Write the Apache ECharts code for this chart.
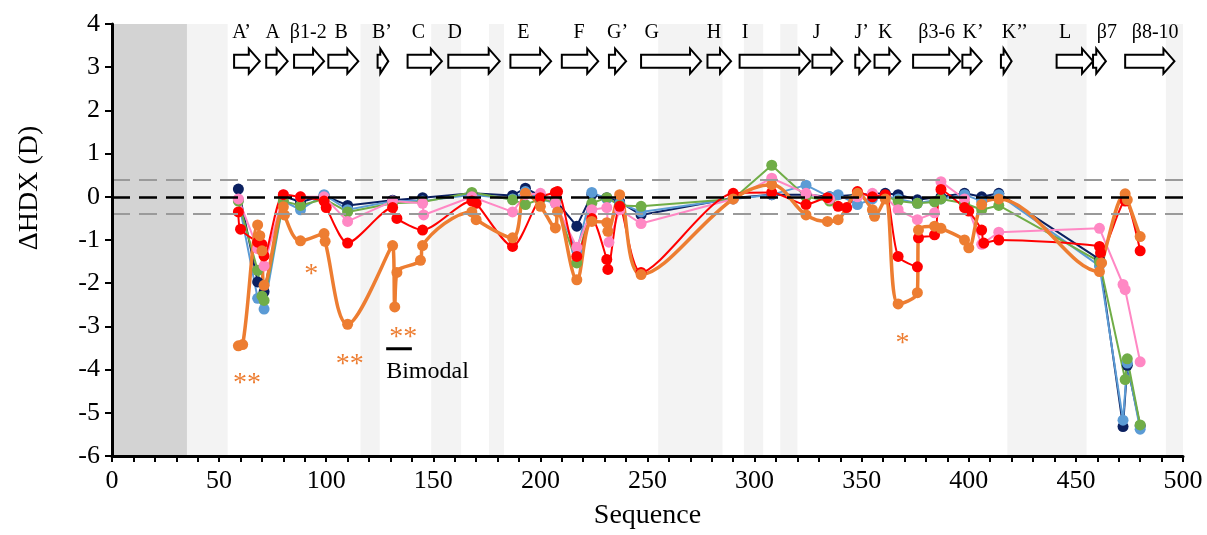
<!DOCTYPE html>
<html><head><meta charset="utf-8">
<script src="https://cdn.jsdelivr.net/npm/echarts@6/dist/echarts.min.js"></script>
<style>html,body{margin:0;padding:0;background:#fff}#c{width:1207px;height:535px}</style>
</head><body><div id="c"></div>
<script>
// ---- data ----
const darkBands = [[0, 35]];
const lightBands = [[35, 54], [116, 125], [149, 163], [176, 183], [255, 285], [295, 304], [312, 320], [418, 455], [492, 500]];

const strandNames = ["A’","A","β1-2","B","B’","C","D","E","F","G’","G","H","I","J","J’","K","β3-6","K’","K’’","L","β7","β8-10"];
const strandStart = [57,72,85,101,124,138,157,186,210,232,247,278,293,327,347,356,374,397,415,441,458,473];
const strandEnd   = [69,82,99,115,129,154,181,205,227,240,275,289,326,341,354,368,396,406,420,458,464,496];
const strandLabelX = [60.5,75,91.6,107,126,143,160,192,218,236,252,281,295.5,329,350,361,385,402,421.5,445,464.5,487];

const navy = [[59,0.18],[68,-1.97],[71,-2.2],[80,0.02],[88,-0.12],[99,0.03],[110,-0.2],[131,-0.08],[145,-0.02],[168,0.08],[187,0.03],[193,0.2],[200,0.02],[207,-0.08],[217,-0.68],[224,0.05],[231,-0.02],[237,-0.12],[247,-0.42],[290,-0.03],[308,0.05],[324,0.05],[335,0.0],[348,0.05],[361,0.08],[367,0.05],[376,-0.07],[387,0.0],[398,0.08],[406,0.0],[414,0.08],[461,-1.45],[472,-5.32],[474,-3.9],[480,-5.3]];
const blue = [[59,-0.07],[68,-2.35],[71,-2.6],[80,-0.1],[88,-0.3],[99,0.05],[110,-0.3],[131,-0.1],[145,-0.1],[168,0.05],[187,-0.05],[193,0.12],[200,-0.05],[207,-0.15],[217,-1.25],[224,0.1],[231,-0.05],[237,-0.15],[247,-0.35],[290,-0.05],[308,0.05],[324,0.27],[335,0.0],[339,0.05],[348,-0.18],[355,-0.05],[361,0.02],[367,-0.05],[376,-0.15],[387,-0.05],[398,0.05],[406,-0.1],[414,0.05],[461,-1.6],[472,-5.17],[474,-3.85],[480,-5.38]];
const green = [[59,-0.1],[68,-1.7],[70,-2.3],[71,-2.4],[80,-0.1],[88,-0.2],[99,-0.05],[110,-0.35],[131,-0.15],[145,-0.12],[168,0.1],[187,-0.07],[193,-0.18],[200,-0.05],[207,-0.12],[217,-1.53],[224,-0.15],[231,-0.02],[237,-0.2],[247,-0.22],[290,-0.05],[308,0.73],[324,0.0],[335,-0.1],[348,0.05],[361,0.02],[367,-0.1],[376,-0.15],[384,-0.12],[387,-0.05],[398,-0.15],[406,-0.3],[414,-0.2],[461,-1.5],[473,-4.23],[474,-3.75],[480,-5.28]];
const pink = [[59,-0.05],[68,-1.2],[71,-1.6],[80,0.05],[88,0.0],[99,0.0],[110,-0.57],[131,-0.1],[145,-0.15],[145.5,-0.42],[168,0.0],[187,-0.35],[193,0.05],[200,0.08],[207,-0.15],[217,-1.17],[224,-0.3],[231,-0.25],[232,-1.05],[237,-0.3],[247,-0.62],[290,-0.05],[308,0.43],[324,0.08],[335,-0.05],[348,0.0],[355,0.08],[361,0.0],[367,-0.3],[376,-0.53],[384,-0.37],[387,0.35],[398,-0.05],[406,-1.1],[414,-0.82],[461,-0.73],[472,-2.03],[473,-2.15],[480,-3.82]];
const red = [[59,-0.35],[60,-0.75],[68,-1.05],[70,-1.1],[71,-1.37],[80,0.05],[88,0.0],[99,-0.1],[100,-0.25],[110,-1.07],[131,-0.25],[133,-0.5],[145,-0.77],[168,-0.1],[170,-0.15],[187,-1.15],[200,-0.02],[207,0.1],[208,0.12],[217,-1.38],[224,-0.5],[231,-1.45],[231.5,-1.68],[237,-0.22],[247,-1.75],[290,0.08],[308,0.1],[324,-0.18],[334,-0.02],[339,-0.22],[343,-0.25],[348,0.12],[355,0.0],[361,0.05],[367,-1.38],[376,-1.62],[376.5,-0.95],[384,-0.88],[387,0.17],[398,-0.25],[400,-0.33],[406,-0.77],[407,-1.07],[414,-1.0],[461,-1.15],[461.5,-1.3],[473,-0.1],[480,-1.25]];
const orange = [[59,-3.45],[61,-3.42],[68,-0.65],[69,-0.9],[70,-1.25],[71,-2.05],[80,-0.23],[80.5,-0.42],[88,-1.02],[99,-0.85],[99.5,-1.03],[110,-2.95],[131,-1.13],[132,-2.55],[133,-1.75],[144,-1.47],[145,-1.13],[168,-0.35],[170,-0.53],[187,-0.95],[193,0.08],[200,-0.22],[207,-0.72],[208,-0.35],[217,-1.92],[224,-0.57],[231,-0.6],[231.5,-0.8],[237,0.05],[247,-1.8],[290,-0.05],[308,0.28],[324,-0.42],[334,-0.57],[339,-0.53],[348,0.08],[355,-0.3],[356,-0.45],[361,-0.05],[367,-2.48],[376,-2.22],[376.5,-0.77],[384,-0.68],[387,-0.73],[398,-1.0],[400,-1.18],[406,-0.18],[414,-0.05],[461,-1.73],[462,-1.53],[473,0.07],[474,-0.07],[480,-0.92]];

const thresholds = [0, 0.4, -0.4];
const starText = ['**','**','*','**','*'];
const starPos = [[63,-4.33],[111,-3.89],[93,-1.8],[136,-3.26],[369,-3.4]];
const bimodalBar = [[128,-3.52],[140,-3.52]];
const bimodalText = ['Bimodal'];
const bimodalPos = [[128,-4.05]];

// ---- chart ----
const FONT = '"Liberation Serif", "DejaVu Serif", serif';
const chart = echarts.init(document.getElementById('c'), null, {renderer: 'canvas'});

function bandSeries(bands, color) {
  return {
    type: 'custom', z: 0, silent: true,
    data: bands,
    renderItem(params, api) {
      const cs = params.coordSys;
      const x0 = api.coord([api.value(0), 0])[0];
      const x1 = api.coord([api.value(1), 0])[0];
      return {type: 'rect', shape: {x: x0, y: cs.y, width: x1 - x0, height: cs.height}, style: {fill: color}};
    }
  };
}
function textSeries(texts, pos, font, color, align) {
  return {
    type: 'custom', z: 6, silent: true,
    data: pos.map((p, i) => [p[0], p[1], i]),
    renderItem(params, api) {
      const p = api.coord([api.value(0), api.value(1)]);
      return {type: 'text', x: p[0], y: p[1],
        style: {text: texts[api.value(2)], font: font, fill: color, align: align, verticalAlign: 'middle', textAlign: align, textVerticalAlign: 'middle'}};
    }
  };
}
function lineSeries(data, color, width, smooth, extra) {
  return Object.assign({
    type: 'line', data: data, smooth: smooth, symbol: 'circle', symbolSize: 11,
    showSymbol: true, lineStyle: {color: color, width: width},
    itemStyle: {color: color}, z: 3, clip: false
  }, extra || {});
}

const arrowLevel = 3.14;
const labelLevel = 3.8;

const option = {
  animation: false,
  backgroundColor: '#fff',
  grid: {left: 112, right: 24, top: 24, bottom: 79, containLabel: false},
  xAxis: {
    type: 'value', min: 0, max: 500, interval: 10, z: 8,
    name: 'Sequence', nameLocation: 'middle', nameGap: 46,
    nameTextStyle: {fontFamily: FONT, fontSize: 28, color: '#000'},
    axisLine: {show: true, onZero: false, lineStyle: {color: '#000', width: 3}},
    axisTick: {show: true, inside: false, length: 6, lineStyle: {color: '#000', width: 2}},
    axisLabel: {fontFamily: FONT, fontSize: 26, color: '#000', margin: 12,
      formatter: v => (v % 50 === 0 ? String(v) : '')},
    splitLine: {show: false}
  },
  yAxis: {
    type: 'value', min: -6, max: 4, interval: 1, z: 8,
    axisLine: {show: true, onZero: false, lineStyle: {color: '#000', width: 3}},
    axisTick: {show: true, inside: false, length: 7, lineStyle: {color: '#000', width: 2}},
    axisLabel: {fontFamily: FONT, fontSize: 26, color: '#000', margin: 12},
    splitLine: {show: false}
  },
  graphic: [{
    type: 'text', x: 30, y: 188, rotation: Math.PI / 2,
    style: {text: 'ΔHDX (D)', font: '28px ' + FONT, fill: '#000', align: 'center', verticalAlign: 'middle', textAlign: 'center', textVerticalAlign: 'middle'}
  }],
  series: [
    bandSeries(darkBands, '#d3d3d3'),
    bandSeries(lightBands, '#f3f3f3'),
    {
      type: 'custom', z: 5, silent: true,
      data: strandStart.map((s, i) => [s, strandEnd[i]]),
      renderItem(params, api) {
        const s = api.coord([api.value(0), arrowLevel]);
        const e = api.coord([api.value(1), arrowLevel]);
        const len = e[0] - s[0];
        const hl = Math.min(11, len * 0.75);
        const bh = 6.5, hh = 12.5;
        const x0 = s[0], x1 = e[0], y = s[1], xh = x1 - hl;
        return {type: 'polygon', shape: {points: [[x0, y - bh], [xh, y - bh], [xh, y - hh], [x1, y], [xh, y + hh], [xh, y + bh], [x0, y + bh]]},
          style: {fill: '#fff', stroke: '#000', lineWidth: 2, lineJoin: 'miter'}};
      }
    },
    textSeries(strandNames, strandLabelX.map(x => [x, labelLevel]), '20px ' + FONT, '#000', 'center'),
    lineSeries(navy, '#0b2060', 2, false, {
      markLine: {
        silent: true, symbol: ['none', 'none'], label: {show: false}, animation: false,
        data: thresholds.map(t => ({yAxis: t, lineStyle: {color: t === 0 ? '#000' : '#9a9a9a', width: t === 0 ? 2.5 : 2, type: [18, 9]}}))
      }
    }),
    lineSeries(blue, '#5b9bd5', 2, false),
    lineSeries(green, '#70ad47', 2, false),
    lineSeries(pink, '#ff88c4', 2, false),
    lineSeries(red, '#ff0000', 2, 0.25),
    lineSeries(orange, '#ed7d31', 3.5, 0.35),
    {type: 'line', data: bimodalBar, symbol: 'none', lineStyle: {color: '#000', width: 3}, z: 6, silent: true},
    textSeries(starText, starPos, '28px ' + FONT, '#ed7d31', 'center'),
    textSeries(bimodalText, bimodalPos, '24px ' + FONT, '#000', 'left')
  ]
};
chart.setOption(option);
</script>
</body></html>
